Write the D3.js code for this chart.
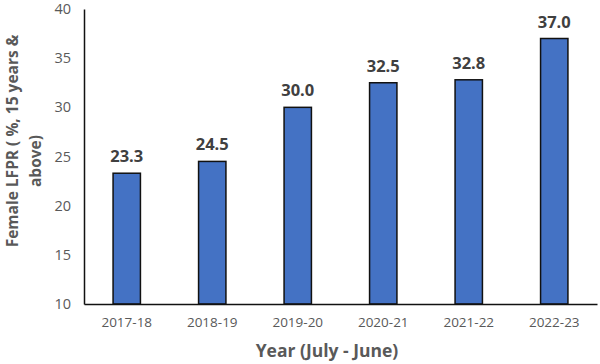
<!DOCTYPE html>
<html><head><meta charset="utf-8">
<script src="https://cdn.jsdelivr.net/npm/d3@7"></script>
<style>body{margin:0;background:#fff}svg{display:block}</style>
</head><body>
<svg id="c" width="600" height="364"></svg>
<script>
const categories = ["2017-18","2018-19","2019-20","2020-21","2021-22","2022-23"];
const values = [23.3, 24.5, 30.0, 32.5, 32.8, 37.0];
const yTicks = [10,15,20,25,30,35,40];
const xTitle = "Year (July - June)";
const yTitleLines = ["Female LFPR ( %, 15 years &", "above)"];

(function(){
const svg = d3.select("#c");
const pL = 84, pR = 597, pT = 9, pB = 304;
const x = d3.scaleBand().domain(categories).range([pL, pR]).paddingInner(0.68).paddingOuter(0.34);
const y = d3.scaleLinear().domain([10, 40]).range([pB, pT]);
const font = "'Open Sans', sans-serif";

// bars
svg.append("g").selectAll("rect").data(values).join("rect")
  .attr("x", (d,i) => x(categories[i]))
  .attr("y", d => y(d))
  .attr("width", x.bandwidth())
  .attr("height", d => pB - y(d))
  .attr("fill", "#4472C4")
  .attr("stroke", "#111")
  .attr("stroke-width", 1.5);

// data labels
svg.append("g").selectAll("text").data(values).join("text")
  .attr("x", (d,i) => x(categories[i]) + x.bandwidth()/2)
  .attr("y", d => y(d) - 11)
  .attr("text-anchor", "middle")
  .attr("font-family", font).attr("font-weight", "bold").attr("font-size", 16.5)
  .attr("fill", "#404040")
  .text(d => d.toFixed(1));

// y axis
const ya = svg.append("g").attr("transform", `translate(${pL},0)`)
  .call(d3.axisLeft(y).tickValues(yTicks).tickSize(0).tickPadding(13));
ya.select(".domain").attr("stroke", "#111").attr("stroke-width", 1.5);
ya.selectAll("text").attr("font-family", font).attr("font-size", 14.5).attr("fill", "#595959");

// x axis
const xa = svg.append("g").attr("transform", `translate(0,${pB})`)
  .call(d3.axisBottom(x).tickSize(0).tickPadding(13));
xa.select(".domain").attr("stroke", "#111").attr("stroke-width", 1.5);
xa.selectAll("text").attr("font-family", font).attr("font-size", 13.5).attr("fill", "#595959");

// x title
svg.append("text").attr("x", 327).attr("y", 357).attr("text-anchor", "middle")
  .attr("font-family", font).attr("font-weight", "bold").attr("font-size", 17.5).attr("fill", "#595959")
  .text(xTitle);

// y title
svg.append("text").attr("transform", "translate(18,141) rotate(-90)").attr("text-anchor", "middle")
  .attr("font-family", font).attr("font-weight", "bold").attr("font-size", 15.5).attr("fill", "#595959")
  .text(yTitleLines[0]);
svg.append("text").attr("transform", "translate(41,161) rotate(-90)").attr("text-anchor", "middle")
  .attr("font-family", font).attr("font-weight", "bold").attr("font-size", 15.5).attr("fill", "#595959")
  .text(yTitleLines[1]);
})();
</script>
</body></html>
